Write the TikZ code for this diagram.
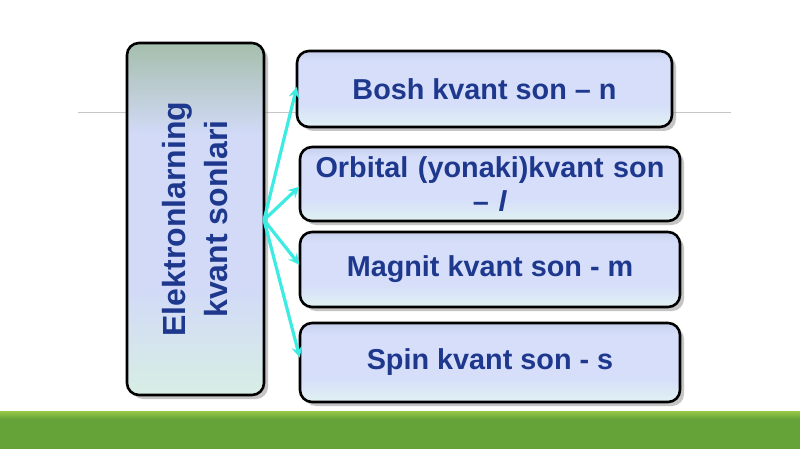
\documentclass[tikz,border=0pt]{standalone}
\usepackage{fontspec}
\setmainfont{Liberation Sans}
\usetikzlibrary{arrows.meta,shadows}
\definecolor{txtblue}{RGB}{30,56,142}
\definecolor{arrcyan}{RGB}{60,235,225}
\definecolor{bargreen}{RGB}{101,163,56}
\definecolor{barlight}{RGB}{150,200,70}
\definecolor{rtop}{RGB}{198,208,236}
\definecolor{rmid}{RGB}{214,222,250}
\definecolor{rbot}{RGB}{224,242,242}
\definecolor{ltop}{RGB}{165,190,172}
\definecolor{lmid}{RGB}{210,218,247}
\definecolor{lbot}{RGB}{215,238,228}
\pgfdeclareverticalshading{rshade}{100bp}{color(0bp)=(rbot); color(25bp)=(rbot); color(40bp)=(rmid); color(68bp)=(rmid); color(75bp)=(rtop); color(100bp)=(rtop)}
\pgfdeclareverticalshading{lshade}{100bp}{color(0bp)=(lbot); color(25bp)=(lbot); color(40bp)=(lmid); color(62bp)=(lmid); color(75bp)=(ltop); color(100bp)=(ltop)}
\tikzset{
  box/.style={draw=black, line width=2.6pt, rounded corners=12pt,
    drop shadow={shadow xshift=4pt, shadow yshift=-4pt, fill=black!45, opacity=0.5},
    inner sep=0pt, outer sep=0pt},
  rbox/.style={box, shading=rshade,
    font=\fontsize{28.8}{33}\selectfont\bfseries, text=txtblue, align=center},
  lbox/.style={box, shading=lshade},
  ltext/.style={rotate=90, font=\fontsize{32}{42}\selectfont\bfseries, text=txtblue, align=center},
  conn/.style={draw=arrcyan, line width=3.2pt, -{Stealth[length=11pt,width=11pt,inset=4pt]}, shorten >=1pt}
}
\begin{document}
\begin{tikzpicture}[x=1pt,y=-1pt]
\useasboundingbox (0,0) rectangle (800,449);
\fill[white] (0,0) rectangle (800,449);
% title rule
\draw[line width=1pt, black!22] (78,113) -- (731,113);
% green bar
\fill[bargreen] (0,413) rectangle (800,449);
\shade[top color=barlight, bottom color=bargreen] (0,411) rectangle (800,419);
% boxes
\node[lbox, minimum width=137pt, minimum height=352pt] (L) at (195.5,219) {};
\node[ltext] (Lt) at (L.center) {Elektronlarning\\kvant sonlari};
\node[rbox, minimum width=375pt, minimum height=76pt] (B1) at (484.5,89) {Bosh kvant son -- n};
\node[rbox, minimum width=380pt, minimum height=74pt, text width=370pt] (B2) at (490,184) {Orbital (yonaki)kvant son\\[1pt] -- \textit{l}};
\node[rbox, minimum width=380pt, minimum height=75pt] (B3) at (490,269.5) {Magnit kvant son - m};
\node[rbox, minimum width=380pt, minimum height=79pt] (B4) at (490,362.5) {Spin kvant son - s};
% connectors
\coordinate (S) at ([yshift=-1pt]L.east);
\draw[conn] (S) -- ([yshift=3pt]B1.west);
\draw[conn] (S) -- ([yshift=-2pt]B2.west);
\draw[conn] (S) -- ([yshift=4pt]B3.west);
\draw[conn] (S) -- ([yshift=4pt]B4.west);
\end{tikzpicture}
\end{document}
